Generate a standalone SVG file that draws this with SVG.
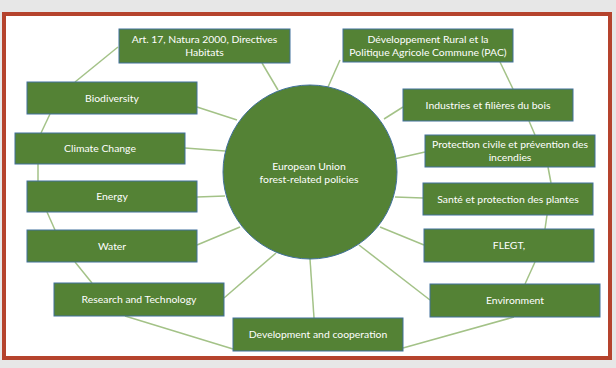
<svg xmlns="http://www.w3.org/2000/svg" width="616" height="368" viewBox="0 0 616 368">
<style>
.box{fill:#548235;stroke:#41719c;stroke-width:1}
.t{font-family:Lato,"Liberation Sans",sans-serif;font-size:10.4px;fill:#ffffff;text-anchor:middle}
.c line{stroke:#a3c287;stroke-width:1.5}
</style>
<rect x="0" y="0" width="616" height="368" fill="#e7e7e7"/>
<rect x="4" y="14" width="606" height="344" fill="#ffffff" stroke="#b5432d" stroke-width="4"/>
<g class="c" id="connectors">
<line x1="262" y1="63" x2="278" y2="90"/>
<line x1="340" y1="60" x2="328" y2="87"/>
<line x1="118" y1="47" x2="75" y2="82"/>
<line x1="500" y1="62" x2="513" y2="89"/>
<line x1="197" y1="107" x2="237" y2="120"/>
<line x1="403" y1="107" x2="384" y2="119"/>
<line x1="50" y1="114" x2="41" y2="133"/>
<line x1="185" y1="148" x2="225" y2="151"/>
<line x1="38" y1="164" x2="38" y2="181"/>
<line x1="197" y1="197" x2="225" y2="196"/>
<line x1="529" y1="121" x2="535" y2="135"/>
<line x1="425" y1="152" x2="394" y2="159"/>
<line x1="548" y1="167" x2="551" y2="183"/>
<line x1="423" y1="198" x2="395" y2="197"/>
<line x1="47" y1="212" x2="55" y2="230"/>
<line x1="197" y1="245" x2="240" y2="227"/>
<line x1="547" y1="215" x2="545" y2="229"/>
<line x1="380" y1="227" x2="424" y2="245"/>
<line x1="75" y1="262" x2="92" y2="283"/>
<line x1="224" y1="298" x2="276" y2="253"/>
<line x1="310" y1="259" x2="314" y2="318"/>
<line x1="359" y1="245" x2="430" y2="300"/>
<line x1="535" y1="262" x2="525" y2="284"/>
<line x1="125" y1="316" x2="233" y2="349"/>
<line x1="514" y1="317" x2="403" y2="348"/>
</g>
<g id="center">
<circle cx="310" cy="172" r="87" class="box"/>
<text class="t" x="309" y="170">European Union</text>
<text class="t" x="309" y="183">forest-related policies</text>
</g>
<g id="art17">
<rect class="box" x="119" y="29" width="171" height="34"/>
<text class="t" x="204.5" y="43">Art. 17, Natura 2000, Directives</text>
<text class="t" x="204.5" y="56">Habitats</text>
</g>
<g id="developpement">
<rect class="box" x="343" y="29" width="170" height="33"/>
<text class="t" x="428" y="43">Développement Rural et la</text>
<text class="t" x="428" y="56">Politique Agricole Commune (PAC)</text>
</g>
<g id="biodiversity">
<rect class="box" x="27" y="82" width="170" height="32"/>
<text class="t" x="112" y="101.5">Biodiversity</text>
</g>
<g id="industries">
<rect class="box" x="403" y="89" width="170" height="32"/>
<text class="t" x="488" y="108.5">Industries et filières du bois</text>
</g>
<g id="climate">
<rect class="box" x="15" y="133" width="170" height="31"/>
<text class="t" x="100" y="152">Climate Change</text>
</g>
<g id="protection">
<rect class="box" x="425" y="135" width="170" height="32"/>
<text class="t" x="510" y="148">Protection civile et prévention des</text>
<text class="t" x="510" y="161">incendies</text>
</g>
<g id="energy">
<rect class="box" x="27" y="181" width="170" height="31"/>
<text class="t" x="112" y="200">Energy</text>
</g>
<g id="sante">
<rect class="box" x="423" y="183" width="170" height="32"/>
<text class="t" x="508" y="202.5">Santé et protection des plantes</text>
</g>
<g id="water">
<rect class="box" x="27" y="230" width="170" height="32"/>
<text class="t" x="112" y="249.5">Water</text>
</g>
<g id="flegt">
<rect class="box" x="424" y="229" width="170" height="33"/>
<text class="t" x="509" y="249">FLEGT,</text>
</g>
<g id="research">
<rect class="box" x="54" y="283" width="170" height="33"/>
<text class="t" x="139" y="303">Research and Technology</text>
</g>
<g id="environment">
<rect class="box" x="430" y="284" width="170" height="33"/>
<text class="t" x="515" y="304">Environment</text>
</g>
<g id="development">
<rect class="box" x="233" y="318" width="170" height="33"/>
<text class="t" x="318" y="338">Development and cooperation</text>
</g>
</svg>
